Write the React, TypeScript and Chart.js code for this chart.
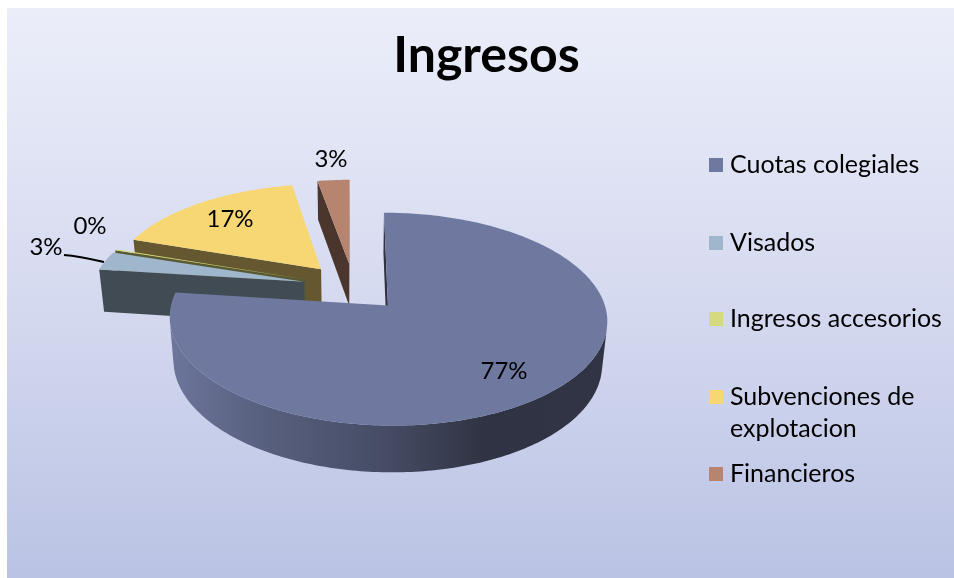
import React, { useEffect, useRef } from "react";
import { Chart, registerables } from "chart.js";

Chart.register(...registerables);

// ---- data ----
const categories = ["Cuotas colegiales", "Visados", "Ingresos accesorios", "Subvenciones de explotacion", "Financieros"];
const shares = [77.0, 3.0, 0.2, 17.0, 2.8];
const sliceColors = ["#6F79A0", "#9FB6CD", "#D3DB7E", "#F7D774", "#B7846F"];
const legendLines = [["Cuotas colegiales"], ["Visados"], ["Ingresos accesorios"], ["Subvenciones de", "explotacion"], ["Financieros"]];

// ---- layout ----
const W = 947;
const H = 570;
const ORIGIN_X = 7;
const ORIGIN_Y = 8;
const FONT = "Lato, 'Noto Sans', sans-serif";
const legendY = [165, 243, 319, 397, 474];
const labelPos = [
  [504, 371],
  [46, 247],
  [90, 226],
  [230, 219],
  [331, 159],
];
// projection of the pie plane on the page (page pixels)
const VIEW = { X: 353.5, Y: 287, b: 212, a: 100, k: 0.126, d: 43.5, m: 0.02 };

function project(u: number, v: number, z: number) {
  const w = 1 - VIEW.k * v + VIEW.m * z;
  return {
    x: VIEW.X + (VIEW.b * u) / w - ORIGIN_X,
    y: VIEW.Y + (VIEW.a * v + VIEW.d * z) / w - ORIGIN_Y,
  };
}

function shade(hex: string, f: number) {
  const n = parseInt(hex.slice(1), 16);
  const c = [(n >> 16) & 255, (n >> 8) & 255, n & 255].map((x) => Math.round(x * f));
  return `rgb(${c[0]},${c[1]},${c[2]})`;
}

type P = { x: number; y: number };

function area(pts: P[]) {
  let s = 0;
  pts.forEach((p, i) => {
    const q = pts[(i + 1) % pts.length];
    s += p.x * q.y - q.x * p.y;
  });
  return s;
}

function fillPoly(ctx: CanvasRenderingContext2D, pts: P[], style: string | CanvasGradient) {
  ctx.beginPath();
  pts.forEach((p, i) => (i ? ctx.lineTo(p.x, p.y) : ctx.moveTo(p.x, p.y)));
  ctx.closePath();
  ctx.fillStyle = style;
  ctx.fill();
}

const backgroundPlugin = {
  id: "panel",
  beforeDraw(chart: any) {
    const { ctx, width, height } = chart;
    const g = ctx.createLinearGradient(0, 0, 0, height);
    g.addColorStop(0, "#EBEEF9");
    g.addColorStop(0.5, "#D6DAF0");
    g.addColorStop(1, "#BAC3E4");
    ctx.fillStyle = g;
    ctx.fillRect(0, 0, width, height);
  },
};

const pie3dPlugin = {
  id: "pie3d",
  beforeDatasetDraw(chart: any) {
    const { ctx } = chart;
    const arcs = chart.getDatasetMeta(0).data;
    const rimGrad = (color: string) => {
      const g = ctx.createLinearGradient(171 - ORIGIN_X, 0, 607 - ORIGIN_X, 0);
      g.addColorStop(0, shade(color, 0.97));
      g.addColorStop(0.2, shade(color, 0.8));
      g.addColorStop(0.5, shade(color, 0.62));
      g.addColorStop(0.72, shade(color, 0.42));
      g.addColorStop(1, shade(color, 0.43));
      return g;
    };
    ctx.save();
    [4, 3, 2, 1, 0].forEach((i) => {
      const arc = arcs[i];
      const color = sliceColors[i];
      const { startAngle, endAngle, outerRadius } = arc.getProps(["startAngle", "endAngle", "outerRadius"]);
      const e = arc.options.offset / 4 / outerRadius;
      const mid = (startAngle + endAngle) / 2;
      const cu = e * Math.cos(mid);
      const cv = e * Math.sin(mid);
      const n = Math.max(2, Math.ceil(((endAngle - startAngle) * 180) / Math.PI));
      const rim: { u: number; v: number }[] = [];
      for (let j = 0; j <= n; j++) {
        const t = startAngle + ((endAngle - startAngle) * j) / n;
        rim.push({ u: cu + Math.cos(t), v: cv + Math.sin(t) });
      }
      const at = (q: { u: number; v: number }, z: number) => project(q.u, q.v, z);
      const apex = { u: cu, v: cv };
      const side = shade(color, 0.41);
      const quads = [
        [at(apex, 0), at(rim[0], 0), at(rim[0], 1), at(apex, 1)],
        [at(rim[n], 0), at(apex, 0), at(apex, 1), at(rim[n], 1)],
      ];
      quads.forEach((q) => {
        if (area(q) < 0) fillPoly(ctx, q, side);
      });
      const grad = rimGrad(color);
      let run: number[] = [];
      const flush = () => {
        if (!run.length) return;
        const idx = [...run, run[run.length - 1] + 1];
        const top = idx.map((j) => at(rim[j], 0));
        const bottom = idx.slice().reverse().map((j) => at(rim[j], 1));
        fillPoly(ctx, [...top, ...bottom], grad);
        run = [];
      };
      for (let j = 0; j < n; j++) {
        const q = [at(rim[j], 0), at(rim[j + 1], 0), at(rim[j + 1], 1), at(rim[j], 1)];
        if (area(q) < 0) run.push(j);
        else flush();
      }
      flush();
      fillPoly(ctx, [at(apex, 0), ...rim.map((r) => at(r, 0))], color);
    });
    ctx.restore();
    return false;
  },
  afterDraw(chart: any) {
    const { ctx } = chart;
    ctx.save();
    // leader line of the small "Visados" slice
    ctx.beginPath();
    ctx.moveTo(64 - ORIGIN_X, 255 - ORIGIN_Y);
    ctx.quadraticCurveTo(78 - ORIGIN_X, 256 - ORIGIN_Y, 104 - ORIGIN_X, 262 - ORIGIN_Y);
    ctx.strokeStyle = "#000";
    ctx.lineWidth = 2;
    ctx.stroke();

    ctx.fillStyle = "#000";
    ctx.textBaseline = "middle";
    ctx.textAlign = "center";
    ctx.font = `24px ${FONT}`;
    shares.forEach((s, i) => {
      ctx.fillText(`${Math.round(s)}%`, labelPos[i][0] - ORIGIN_X, labelPos[i][1] - ORIGIN_Y);
    });

    // legend
    ctx.textAlign = "left";
    ctx.font = `25px ${FONT}`;
    legendLines.forEach((lines, i) => {
      const y = legendY[i] - ORIGIN_Y;
      ctx.fillStyle = sliceColors[i];
      ctx.fillRect(709 - ORIGIN_X, y - 7, 14, 14);
      ctx.fillStyle = "#000";
      lines.forEach((t, j) => ctx.fillText(t, 730 - ORIGIN_X, y + j * 32));
    });
    ctx.restore();
  },
};

export default function App() {
  const ref = useRef<HTMLCanvasElement>(null);
  useEffect(() => {
    const chart = new Chart(ref.current as HTMLCanvasElement, {
      type: "pie",
      data: {
        labels: categories,
        datasets: [
          {
            data: shares,
            backgroundColor: sliceColors,
            borderWidth: 0,
            offset: 153.6,
          },
        ],
      },
      options: {
        responsive: false,
        animation: false,
        radius: 160,
        layout: { padding: { left: 12 } },
        plugins: {
          legend: { display: false },
          tooltip: { enabled: false },
          title: {
            display: true,
            text: "Ingresos",
            fullSize: false,
            color: "#000",
            font: { family: FONT, size: 50, weight: "bold" },
            padding: { top: 18, bottom: 10 },
          },
        },
      },
      plugins: [backgroundPlugin, pie3dPlugin],
    } as any);
    return () => chart.destroy();
  }, []);
  return (
    <div style={{ position: "absolute", left: ORIGIN_X, top: ORIGIN_Y, width: W, height: H, overflow: "hidden" }}>
      <canvas ref={ref} width={W} height={H} style={{ display: "block" }} />
    </div>
  );
}
